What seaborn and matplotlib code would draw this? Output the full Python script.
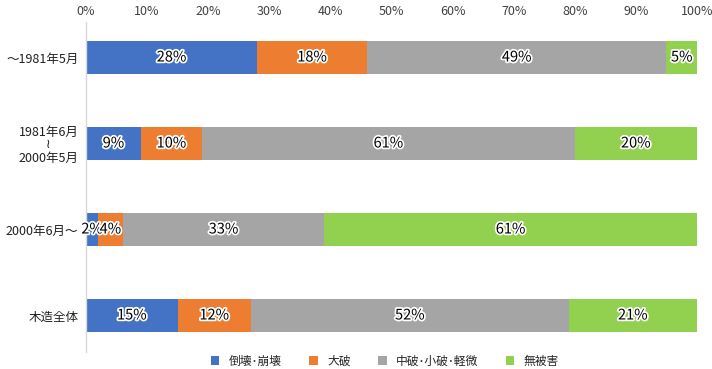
import matplotlib
matplotlib.use("Agg")
import matplotlib.pyplot as plt
import matplotlib.patheffects as pe
from matplotlib.patches import Patch
import seaborn as sns
import pandas as pd
import numpy as np

categories = ["～1981年5月", "1981年6月\n≀\n2000年5月", "2000年6月～", "木造全体"]
series_names = ["倒壊･崩壊", "大破", "中破･小破･軽微", "無被害"]
collapse = [28, 9, 2, 15]
major = [18, 10, 4, 12]
minor = [49, 61, 33, 52]
none_ = [5, 20, 61, 21]
colors = ["#4472C4", "#ED7D31", "#A5A5A5", "#92D050"]
xticks = [0, 10, 20, 30, 40, 50, 60, 70, 80, 90, 100]

sns.set_theme(style="white")
plt.rcParams["font.family"] = ["Noto Sans CJK JP", "DejaVu Sans"]

series = [collapse, major, minor, none_]
cum = np.zeros(len(categories))
cums = []
for s in series:
    cum = cum + np.array(s)
    cums.append(cum.copy())

W, H = 712, 369
top_px, bot_px = 22, 352
fig = plt.figure(figsize=(W / 100, H / 100), dpi=100)
ax = fig.add_axes([86 / W, 1 - bot_px / H, (697 - 86) / W, (bot_px - top_px) / H])

for i in reversed(range(len(series))):
    d = pd.DataFrame({"cat": categories, "val": cums[i]})
    sns.barplot(data=d, x="val", y="cat", color=colors[i], orient="h",
                width=0.385, ax=ax, saturation=1, linewidth=0)

for i, s in enumerate(series):
    for j, v in enumerate(s):
        center = cums[i][j] - v / 2
        ax.text(center, j, f"{v}%", ha="center", va="center", fontsize=10.5,
                color="black",
                path_effects=[pe.withStroke(linewidth=2.5, foreground="white")])

ax.set_xlim(0, 100)
ax.set_ylim(3 + (bot_px - 315.5) / 86, -(57.5 - top_px) / 86)
ax.set_xticks(xticks)
ax.set_xticklabels([f"{t}%" for t in xticks], fontsize=9, color="#404040")
ax.xaxis.tick_top()
ax.tick_params(axis="x", length=0, pad=3)
ax.tick_params(axis="y", length=0, pad=5.5)
for lbl in ax.get_yticklabels():
    lbl.set_fontsize(9)
    lbl.set_color("#202020")
    lbl.set_multialignment("center")
    lbl.set_linespacing(1.0)
ax.set_xlabel("")
ax.set_ylabel("")
for sp in ["top", "right", "bottom"]:
    ax.spines[sp].set_visible(False)
ax.spines["left"].set_color("#D9D9D9")
ax.spines["left"].set_linewidth(1)

handles = [Patch(facecolor=c, edgecolor="none") for c in colors]
fig.legend(handles, series_names, loc="center", bbox_to_anchor=(385 / W, 1 - 361 / H),
           ncol=4, frameon=False, fontsize=8.5, handlelength=0.7, handleheight=0.7,
           columnspacing=2.35, handletextpad=0.8)

fig.savefig("out.png", dpi=100)
